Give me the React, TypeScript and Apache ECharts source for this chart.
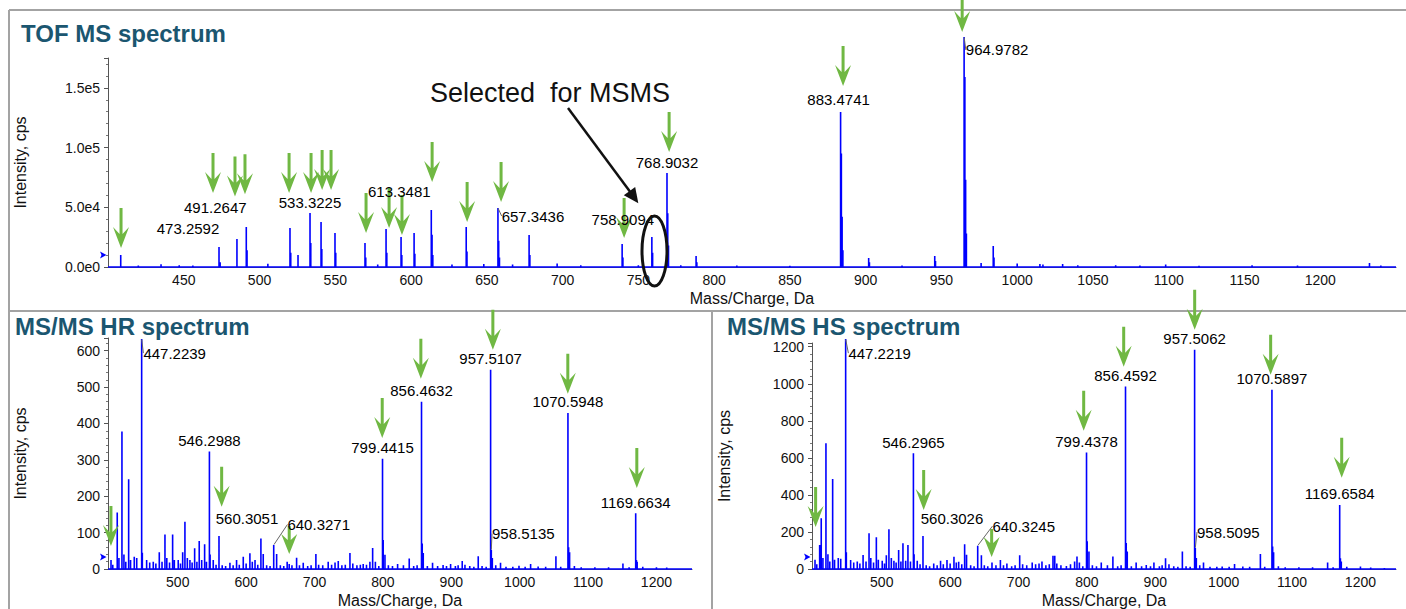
import React, { useEffect, useRef } from "react";
import * as echarts from "echarts";

// ---------------- DATA ----------------
// TOF MS spectrum: [m/z, intensity (cps)]
const tofPeaks: [number, number][] = [
  [408.4, 10000], [420, 1200], [435, 2200], [447, 1500], [456, 1200],
  [473.26, 16700], [474.0, 4000], [485.1, 23400], [491.26, 33500], [491.76, 14000],
  [505.5, 2800], [520.1, 32700], [520.6, 12000], [525.4, 10000], [533.32, 45200],
  [533.82, 20000], [540.6, 37700], [541.1, 15000], [549.8, 28500], [550.3, 12000],
  [569.6, 20000], [570.1, 8000], [578, 2000], [583.5, 31800], [584.0, 12000],
  [593.4, 25100], [593.9, 10000], [602, 28500], [602.5, 11000], [613.35, 47700],
  [613.85, 27000], [614.35, 10000], [627, 2000], [636.4, 33500], [636.9, 13000],
  [648, 2500], [657.34, 49400], [657.84, 22000], [658.34, 8000], [667, 2000],
  [677.9, 26800], [678.4, 10000], [696.4, 3000], [712, 1500], [739.3, 19300],
  [739.8, 8000], [750, 1500], [758.91, 25100], [759.41, 12000], [768.9, 78700],
  [769.4, 45000], [769.9, 18000], [778, 1500], [788.1, 9200], [788.6, 4000],
  [815, 1200], [850, 1000], [883.47, 129800], [883.97, 95000], [884.47, 42000],
  [884.97, 14000], [902, 7500], [902.5, 4000], [924, 1200], [945.6, 9200],
  [946.1, 5000], [964.98, 192600], [965.48, 159000], [965.98, 73000], [966.48, 28000],
  [976.2, 3300], [984.2, 17600], [984.7, 8000], [1000, 3000], [1015, 2500],
  [1017, 2000], [1030, 2500], [1040, 1500], [1065, 1500], [1081, 1200],
  [1098, 2000], [1120, 1000], [1155, 1500], [1185, 1200], [1232.5, 3300], [1240, 1200],
];
// labelled peaks: [m/z, intensity, label]
const tofLabels: [number, number, string][] = [
  [473.26, 16700, "473.2592"], [491.26, 33500, "491.2647"], [533.32, 45200, "533.3225"],
  [613.35, 47700, "613.3481"], [657.34, 49400, "657.3436"], [758.91, 25100, "758.9094"],
  [768.9, 78700, "768.9032"], [883.47, 129800, "883.4741"], [964.98, 192600, "964.9782"],
];
// green arrows: [m/z, intensity at arrow tip]
const tofArrows: [number, number][] = [
  [408.6, 15900], [469.3, 62000], [483.8, 59000], [490.4, 61000], [519.5, 62000],
  [534, 62000], [541.3, 64500], [547.2, 64500], [570.3, 28500], [585.5, 32700],
  [594, 26800], [613.9, 71200], [637, 37700], [659.4, 54400], [740.6, 24300],
  [770.3, 96300], [885.1, 151600], [963.7, 196800],
];
const tofYRange = [0, 175000];
const tofXRange = [400, 1250];

// MS/MS HR spectrum
const hrPeaks: [number, number][] = [
  [402.4, 25], [405, 12], [411.5, 155], [414, 30], [418.4, 378], [421.3, 40], [424, 20],
  [428.2, 247], [431, 25], [436.4, 34], [440, 30], [447.22, 632], [448.2, 45], [454.5, 25],
  [459, 18], [464.2, 20], [468, 15], [473, 46], [477, 20], [481.3, 95], [484, 30], [488, 18],
  [492.5, 95], [495, 25], [500.7, 25], [504, 15], [507.2, 46], [510.5, 130], [514, 30],
  [517.8, 25], [521, 18], [524.7, 57], [528, 20], [531.4, 77], [535, 25], [539.3, 68],
  [542, 20], [546.3, 323], [547.3, 40], [551.9, 25], [556, 12], [560.31, 91], [565, 10],
  [570, 8], [576.3, 17], [581, 10], [586, 25], [590, 12], [595.8, 34], [600, 15],
  [605.5, 43], [609, 20], [613, 25], [617, 12], [621.6, 84], [625, 41], [630, 10],
  [635, 8], [640.33, 66], [644.6, 41], [650, 10], [655, 8], [660, 20], [663, 14],
  [667, 10], [673.8, 31], [678, 10], [683.5, 17], [690, 8], [695, 10], [702, 41],
  [706, 12], [712, 10], [720, 20], [725, 12], [730, 18], [734.7, 22], [740, 10],
  [745, 12], [751.8, 44], [756, 15], [762, 10], [767, 12], [771.2, 14], [776, 12],
  [781, 20], [785, 58], [789, 20], [794, 8], [799.44, 303], [800.4, 80], [803, 39],
  [808, 10], [814, 8], [821.5, 14], [830, 10], [838.5, 29], [845, 8], [850, 10],
  [856.46, 460], [857.5, 70], [859, 44], [865, 8], [872.6, 17], [880, 8], [888, 11],
  [893, 8], [899, 14], [906, 8], [910, 10], [916, 22], [920, 12], [927, 8], [933, 6],
  [939.4, 35], [945, 8], [951, 6], [957.51, 548], [958.51, 52], [960, 30], [965, 10],
  [972, 17], [980, 6], [990, 6], [999, 9], [1008, 6], [1016, 14], [1027, 7], [1038, 6],
  [1053, 35], [1060, 6], [1070.59, 429], [1071.6, 60], [1073, 46], [1080, 8], [1090, 5],
  [1110, 5], [1130, 5], [1151, 15], [1160, 5], [1169.66, 153], [1170.7, 25],
  [1171.8, 20], [1180, 6], [1200, 5], [1215, 4],
];
const hrLabels: [number, number, string][] = [
  [447.22, 632, "447.2239"], [546.3, 323, "546.2988"], [560.31, 91, "560.3051"],
  [640.33, 66, "640.3271"], [799.44, 303, "799.4415"], [856.46, 460, "856.4632"],
  [957.51, 548, "957.5107"], [958.51, 52, "958.5135"], [1070.59, 429, "1070.5948"],
  [1169.66, 153, "1169.6634"],
];
const hrArrows: [number, number][] = [
  [402.3, 63], [564.2, 171], [799, 360], [855.5, 523], [960.8, 603], [1070.4, 482], [1171.3, 223],
];
const hrShortArrows: [number, number][] = [[663, 41]];
const hrYRange = [0, 635];

// MS/MS HS spectrum
const hsPeaks: [number, number][] = [
  [402.4, 50], [405, 25], [409.2, 130], [411.5, 274], [414, 60], [418.4, 679], [421.3, 80],
  [424, 40], [428.2, 486], [431, 50], [436.4, 60], [440, 55], [447.22, 1241], [448.2, 90],
  [454.5, 49], [459, 35], [464.2, 40], [468, 30], [472.7, 76], [477, 40], [481.4, 193],
  [484, 60], [488, 35], [492.1, 171], [495, 50], [500.7, 45], [504, 30], [506.7, 74],
  [510.5, 214], [514, 60], [517.8, 45], [521, 35], [524.7, 103], [528, 40], [531, 139],
  [535, 45], [538.3, 130], [542, 40], [546.3, 625], [547.3, 80], [551.9, 45], [556, 25],
  [560.3, 178], [565, 20], [570, 15], [576, 30], [581, 20], [586, 45], [590, 25],
  [595.4, 49], [600, 30], [605.6, 66], [609, 35], [612.5, 39], [617, 25], [621.2, 133],
  [624, 77], [630, 20], [635, 15], [640.32, 126], [645.7, 74], [650, 20], [655, 15],
  [661.2, 35], [667, 20], [673.5, 49], [678, 20], [683, 30], [690, 15], [695, 20],
  [701.7, 74], [706, 25], [712, 20], [720, 35], [725, 25], [730, 30], [734.3, 40],
  [740, 20], [745, 25], [750.4, 71], [753, 71], [756, 30], [762, 20], [770, 16], [776, 25],
  [782, 40], [785.5, 68], [789, 35], [794, 15], [799.44, 629], [800.4, 150], [803, 94],
  [808, 20], [814, 15], [821, 35], [830, 20], [838, 68], [845, 15], [850, 20],
  [856.46, 985], [857.5, 140], [859, 94], [865, 15], [872, 35], [880, 15], [886.8, 22],
  [893, 15], [898, 35], [906, 15], [910, 20], [915, 58], [920, 25], [927, 15], [933, 12],
  [939.6, 94], [945, 15], [951, 12], [957.51, 1184], [958.51, 113], [960, 60], [965, 20],
  [970.5, 35], [980, 12], [990, 12], [997.8, 14], [1008, 12], [1015.9, 27], [1028, 14],
  [1038, 12], [1053.7, 81], [1060, 12], [1070.59, 968], [1071.6, 122], [1073, 90],
  [1080, 15], [1090, 10], [1110, 10], [1130, 10], [1152, 35], [1160, 10],
  [1169.66, 346], [1170.7, 58], [1172, 40], [1180, 12], [1200, 14], [1215, 8], [1235, 6],
];
const hsLabels: [number, number, string][] = [
  [447.22, 1241, "447.2219"], [546.3, 625, "546.2965"], [560.3, 178, "560.3026"],
  [640.32, 126, "640.3245"], [799.44, 629, "799.4378"], [856.46, 985, "856.4592"],
  [957.51, 1184, "957.5062"], [958.51, 113, "958.5095"], [1070.59, 968, "1070.5897"],
  [1169.66, 346, "1169.6584"],
];
const hsArrows: [number, number][] = [
  [403.3, 227], [561.3, 319], [795.3, 746], [853.8, 1092], [957.6, 1292], [1068.7, 1049], [1172.6, 492],
];
const hsShortArrows: [number, number][] = [[660.7, 65]];
const hsYRange = [0, 1220];

const msmsXRange = [398, 1252];
const tofXTicks = [450, 500, 550, 600, 650, 700, 750, 800, 850, 900, 950, 1000, 1050, 1100, 1150, 1200];
const msmsXTicks = [500, 600, 700, 800, 900, 1000, 1100, 1200];

// ---------------- STYLE ----------------
const FONT = '"Liberation Sans", Arial, sans-serif';
const BLUE = "#0000ff";
const GREEN = "#70b843";
const TITLE = "#1b5670";
const TXT = "#111111";

// label nudges [dx, dy, leader]
const nudges: Record<string, [number, number, boolean]> = {
  "473.2592": [-31, -7.5, false],
  "491.2647": [-31, -8.5, false],
  "613.3481": [-32, -7.5, false],
  "657.3436": [35, 19, true],
  "758.9094": [-29, -6.5, false],
  "883.4741": [-2, -1, false],
  "964.9782": [33, 24, true],
  "447.2239": [33, 25, true],
  "560.3051": [28, -6.5, false],
  "640.3271": [45, -9.5, true],
  "958.5135": [32, -5.5, true],
  "447.2219": [34, 25, true],
  "560.3026": [29, -7, false],
  "640.3245": [46, -8.5, true],
  "958.5095": [33, -5, true],
};

const ARROW = "path://M6.5,0 L9.5,0 L9.5,26 L16,19 L8,40 L0,19 L6.5,26 Z";
const ARROW_SHORT = "path://M6.5,0 L9.5,0 L9.5,14 L16,8 L8,28 L0,8 L6.5,14 Z";

function sticks(peaks: [number, number][], lo: number, hi: number) {
  const sorted = [...peaks].sort((a, b) => a[0] - b[0]);
  const pts: number[][] = [[lo, 0]];
  for (const [mz, v] of sorted) pts.push([mz, 0], [mz, v], [mz, 0]);
  pts.push([hi, 0]);
  return pts;
}

function spectrumSeries(i: number, peaks: [number, number][], range: number[]) {
  return {
    type: "line",
    xAxisIndex: i,
    yAxisIndex: i,
    data: sticks(peaks, range[0], range[1]),
    symbol: "none",
    showSymbol: false,
    clip: false,
    silent: true,
    lineStyle: { color: BLUE, width: 1.6 },
    z: 2,
  };
}

function labelSeries(i: number, labels: [number, number, string][]) {
  return {
    type: "scatter",
    xAxisIndex: i,
    yAxisIndex: i,
    symbolSize: 1,
    clip: false,
    silent: true,
    itemStyle: { color: "rgba(255,255,255,0)" },
    z: 6,
    data: labels.map(([mz, v, t]) => {
      const n = nudges[t];
      return {
        value: [mz, v],
        name: t,
        labelLine: n && n[2] ? { show: true, length2: 0, lineStyle: { color: "#666", width: 1 } } : { show: false },
      };
    }),
    label: {
      show: true,
      position: "top",
      distance: 3,
      formatter: "{b}",
      fontSize: 15,
      fontFamily: FONT,
      color: "#000",
      opacity: 1,
    },
    labelLayout: (p: any) => {
      const t = labels[p.dataIndex][2];
      const n = nudges[t];
      return n ? { dx: n[0], dy: n[1] } : {};
    },
  };
}

function arrowSeries(i: number, arrows: [number, number][], shorts: [number, number][]) {
  return {
    type: "scatter",
    xAxisIndex: i,
    yAxisIndex: i,
    clip: false,
    silent: true,
    z: 5,
    symbol: ARROW,
    symbolSize: [16, 40],
    symbolOffset: [0, "-50%"],
    itemStyle: { color: GREEN, opacity: 1 },
    data: [
      ...arrows.map((a) => ({ value: a })),
      ...shorts.map((a) => ({ value: a, symbol: ARROW_SHORT, symbolSize: [16, 28] })),
    ],
  };
}

const expFmt = (v: number) => (v === 0 ? "0.0e0" : v.toExponential(1).replace("e+", "e"));
const plainFmt = (v: number) => String(v);

const axisLabelBase = { fontSize: 14, fontFamily: FONT, color: TXT };
const nameStyle = { fontSize: 16, fontFamily: FONT, color: TXT };

function xAxis(i: number, range: number[], ticks: number[], interval?: number) {
  return {
    gridIndex: i,
    type: "value",
    min: range[0],
    max: range[1],
    ...(interval ? { interval } : {}),
    axisLine: { lineStyle: { color: "#555", width: 1 } },
    axisTick: { show: false },
    splitLine: { show: false },
    axisLabel: { ...axisLabelBase, margin: 6, customValues: ticks, formatter: plainFmt },
    name: "Mass/Charge, Da",
    nameLocation: "middle",
    nameGap: 23,
    nameTextStyle: nameStyle,
  };
}

function yAxis(i: number, range: number[], interval: number, fmt: (v: number) => string) {
  return {
    gridIndex: i,
    type: "value",
    min: range[0],
    max: range[1],
    interval,
    axisLine: { show: true, lineStyle: { color: "#555", width: 1 } },
    axisTick: { show: true, length: 4, lineStyle: { color: "#555" } },
    minorTick: { show: true, splitNumber: 5, length: 2, lineStyle: { color: "#777" } },
    splitLine: { show: false },
    minorSplitLine: { show: false },
    axisLabel: { ...axisLabelBase, margin: 8, showMaxLabel: false, formatter: fmt },
    name: "Intensity, cps",
    nameLocation: "middle",
    nameGap: 80,
    nameTextStyle: nameStyle,
  };
}

const border = "#a3a3a3";
function marker(x: number, y: number) {
  return {
    type: "polygon",
    shape: { points: [[x - 5, y - 3.5], [x + 1.5, y], [x - 5, y + 3.5], [x - 3.5, y]] },
    style: { fill: BLUE },
    z: 10,
  };
}

const titleStyle = { fontSize: 24, fontWeight: "bold", color: TITLE, fontFamily: FONT };

const option: any = {
  animation: false,
  backgroundColor: "#ffffff",
  title: [
    { text: "TOF MS spectrum", left: 21, top: 21, padding: 0, textStyle: titleStyle },
    { text: "MS/MS HR spectrum", left: 15, top: 314, padding: 0, textStyle: titleStyle },
    { text: "MS/MS HS spectrum", left: 727, top: 314, padding: 0, textStyle: titleStyle },
  ],
  grid: [
    { left: 108, top: 58, width: 1288, height: 209 },
    { left: 108, top: 338, width: 584, height: 231 },
    { left: 812, top: 343, width: 584, height: 226 },
  ],
  xAxis: [
    xAxis(0, tofXRange, tofXTicks, 50),
    xAxis(1, msmsXRange, msmsXTicks),
    xAxis(2, msmsXRange, msmsXTicks),
  ],
  yAxis: [
    yAxis(0, tofYRange, 50000, expFmt),
    yAxis(1, hrYRange, 100, plainFmt),
    yAxis(2, hsYRange, 200, plainFmt),
  ],
  series: [
    spectrumSeries(0, tofPeaks, tofXRange),
    spectrumSeries(1, hrPeaks, msmsXRange),
    spectrumSeries(2, hsPeaks, msmsXRange),
    arrowSeries(0, tofArrows, []),
    arrowSeries(1, hrArrows, hrShortArrows),
    arrowSeries(2, hsArrows, hsShortArrows),
    labelSeries(0, tofLabels),
    labelSeries(1, hrLabels),
    labelSeries(2, hsLabels),
  ],
  graphic: [
    { type: "line", shape: { x1: 9, y1: 10, x2: 1406, y2: 10 }, style: { stroke: border, lineWidth: 2 }, z: 1 },
    { type: "line", shape: { x1: 9, y1: 10, x2: 9, y2: 609 }, style: { stroke: border, lineWidth: 2 }, z: 1 },
    { type: "line", shape: { x1: 9, y1: 311, x2: 1406, y2: 311 }, style: { stroke: border, lineWidth: 2 }, z: 1 },
    { type: "line", shape: { x1: 712, y1: 311, x2: 712, y2: 609 }, style: { stroke: border, lineWidth: 2 }, z: 1 },
    marker(105, 255),
    marker(105, 557),
    marker(809, 557),
    {
      type: "text",
      x: 430,
      y: 93,
      z: 20,
      style: { text: "Selected  for MSMS", fontSize: 27, fontFamily: FONT, fill: "#111", verticalAlign: "middle" },
    },
    { type: "line", shape: { x1: 568, y1: 108, x2: 631, y2: 193 }, style: { stroke: "#111", lineWidth: 2.5 }, z: 20 },
    { type: "polygon", shape: { points: [[638.3, 203.3], [623.8, 195.2], [635.2, 187.0]] }, style: { fill: "#111" }, z: 20 },
    { type: "ellipse", shape: { cx: 654.5, cy: 251, rx: 12.5, ry: 35 }, style: { fill: "none", stroke: "#111", lineWidth: 3 }, z: 20 },
  ],
};

export default function App() {
  const ref = useRef<HTMLDivElement>(null);
  useEffect(() => {
    if (!ref.current) return;
    const chart = echarts.init(ref.current, null, { renderer: "svg" });
    chart.setOption(option);
    return () => chart.dispose();
  }, []);
  return (
    <div
      ref={ref}
      style={{ position: "fixed", left: 0, top: 0, width: 1406, height: 609, background: "#fff" }}
    />
  );
}
